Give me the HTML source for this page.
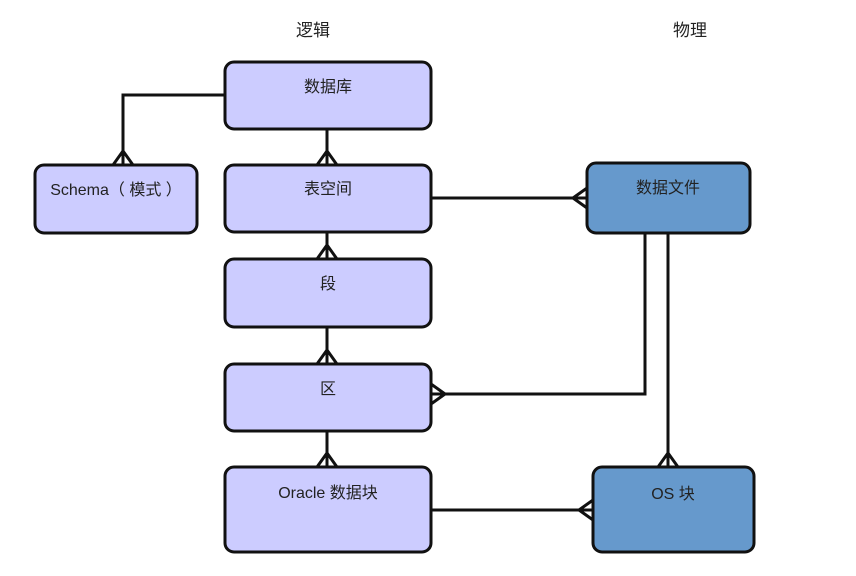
<!DOCTYPE html>
<html><head><meta charset="utf-8"><style>
body{margin:0;background:#fff;}
svg text{font-family:"Liberation Sans","Noto Sans CJK SC",sans-serif;font-size:16px;fill:#222;}
</style></head><body>
<svg width="856" height="571" viewBox="0 0 856 571" xmlns="http://www.w3.org/2000/svg">
<text x="313" y="36" text-anchor="middle" style="font-size:17px">逻辑</text>
<text x="690" y="36" text-anchor="middle" style="font-size:17px">物理</text>
<g stroke="#111" stroke-width="3" fill="none">
<polyline points="225,95 123,95 123,165"/>
<path d="M123,151 L113,165 M123,151 L133,165"/>
<line x1="327" y1="129" x2="327" y2="165"/><path d="M327,151 L317,165 M327,151 L337,165"/>
<line x1="327" y1="232" x2="327" y2="259"/><path d="M327,245 L317,259 M327,245 L337,259"/>
<line x1="327" y1="327" x2="327" y2="364"/><path d="M327,350 L317,364 M327,350 L337,364"/>
<line x1="327" y1="431" x2="327" y2="467"/><path d="M327,453 L317,467 M327,453 L337,467"/>
<line x1="431" y1="198" x2="587" y2="198"/><path d="M573,198 L587,188 M573,198 L587,208"/>
<polyline points="645,233 645,394 431,394"/><path d="M445,394 L431,384 M445,394 L431,404"/>
<line x1="668" y1="233" x2="668" y2="467"/><path d="M668,453 L658,467 M668,453 L678,467"/>
<line x1="431" y1="510" x2="593" y2="510"/><path d="M579,510 L593,500 M579,510 L593,520"/>
</g>
<g stroke="#111" stroke-width="3">
<rect x="225" y="62" width="206" height="67" rx="9" fill="#ccccff"/>
<rect x="225" y="165" width="206" height="67" rx="9" fill="#ccccff"/>
<rect x="225" y="259" width="206" height="68" rx="9" fill="#ccccff"/>
<rect x="225" y="364" width="206" height="67" rx="9" fill="#ccccff"/>
<rect x="225" y="467" width="206" height="85" rx="9" fill="#ccccff"/>
<rect x="35" y="165" width="162" height="68" rx="9" fill="#ccccff"/>
<rect x="587" y="163" width="163" height="70" rx="9" fill="#6699cc"/>
<rect x="593" y="467" width="161" height="85" rx="9" fill="#6699cc"/>
</g>
<text x="328" y="92" text-anchor="middle">数据库</text>
<text x="328" y="194" text-anchor="middle">表空间</text>
<text x="328" y="289" text-anchor="middle">段</text>
<text x="328" y="394" text-anchor="middle">区</text>
<text x="328" y="498" text-anchor="middle">Oracle 数据块</text>
<text x="116" y="195" text-anchor="middle">Schema（ 模式 ）</text>
<text x="668" y="193" text-anchor="middle">数据文件</text>
<text x="673" y="499" text-anchor="middle">OS  块</text>
</svg>
</body></html>
